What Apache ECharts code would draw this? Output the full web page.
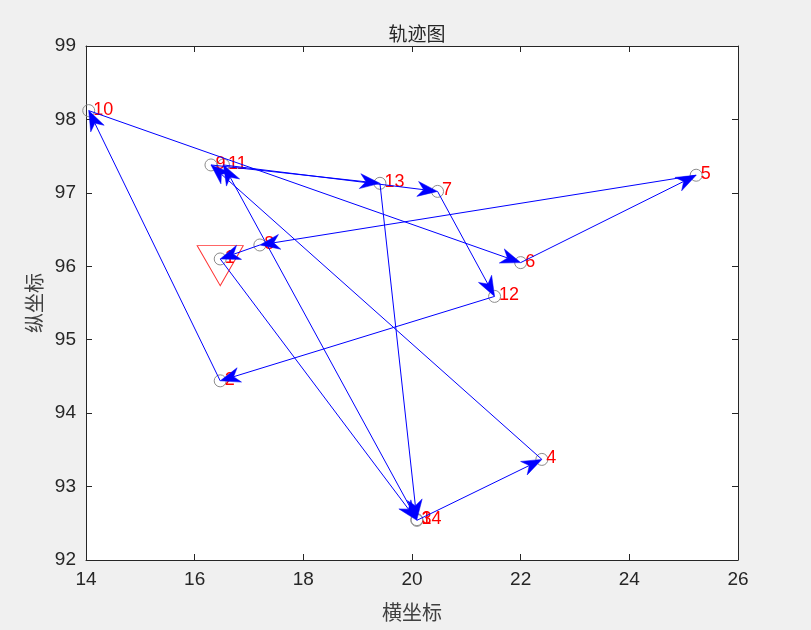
<!DOCTYPE html>
<html>
<head>
<meta charset="utf-8">
<script src="https://cdn.jsdelivr.net/npm/echarts@6/dist/echarts.min.js"></script>
<style>
html,body{margin:0;padding:0;background:#f0f0f0;}
#main{width:811px;height:630px;}
</style>
</head>
<body>
<div id="main"></div>
<script>
// City coordinates (index i -> city number i+1)
const cityX = [16.47, 16.47, 20.09, 22.39, 25.23, 22.00, 20.47, 17.20, 16.30, 14.05, 16.53, 21.52, 19.41, 20.09];
const cityY = [96.10, 94.44, 92.54, 93.37, 97.24, 96.05, 97.02, 96.29, 97.38, 98.12, 97.38, 95.59, 97.13, 92.55];
const cityLabels = ['1','2','3','4','5','6','7','8','9','10','11','12','13','14'];
// Visiting order of the trajectory (closed)
const route = [1, 3, 4, 9, 13, 14, 11, 7, 12, 2, 10, 6, 5, 8, 1];
const startCity = 1;
// Axis ticks
const xTicks = {min: 14, max: 26, step: 2};
const yTicks = {min: 92, max: 99, step: 1};

const pointData = cityX.map((x, i) => [x, cityY[i], cityLabels[i]]);
const edgeData = [];
for (let k = 0; k < route.length - 1; k++) {
  const a = route[k] - 1, b = route[k + 1] - 1;
  edgeData.push([cityX[a], cityY[a], cityX[b], cityY[b]]);
}

const chart = echarts.init(document.getElementById('main'), null, {renderer: 'canvas'});
const axisColor = '#262626';
const tickFont = {fontFamily: 'Liberation Sans, Arial, sans-serif', fontSize: 19, color: axisColor};
const cjk = 'Noto Sans CJK SC, sans-serif';

function renderArrow(params, api) {
  const p1 = api.coord([api.value(0), api.value(1)]);
  const p2 = api.coord([api.value(2), api.value(3)]);
  const dx = p2[0] - p1[0], dy = p2[1] - p1[1];
  const len = Math.sqrt(dx * dx + dy * dy) || 1;
  const ux = dx / len, uy = dy / len;
  const nx = -uy, ny = ux;
  const L = 20, W = 7.5, N = 6;
  const tip = p2;
  const b1 = [tip[0] - L * ux + W * nx, tip[1] - L * uy + W * ny];
  const b2 = [tip[0] - L * ux - W * nx, tip[1] - L * uy - W * ny];
  const notch = [tip[0] - (L - N) * ux, tip[1] - (L - N) * uy];
  return {
    type: 'group',
    children: [
      {type: 'line', shape: {x1: p1[0], y1: p1[1], x2: notch[0], y2: notch[1]},
       style: {stroke: '#0000ff', lineWidth: 1}},
      {type: 'polygon', shape: {points: [tip, b1, notch, b2]},
       style: {fill: '#0000ff', stroke: '#0000ff', lineWidth: 0.5}}
    ]
  };
}

const option = {
  backgroundColor: '#f0f0f0',
  animation: false,
  title: {
    text: '轨迹图', left: 412, top: 19, textAlign: 'center',
    textStyle: {fontFamily: cjk, fontSize: 19, fontWeight: 'normal', color: axisColor}
  },
  grid: {left: 86, right: 73, top: 46, bottom: 70, show: true, backgroundColor: '#ffffff', borderWidth: 0},
  xAxis: [
    {type: 'value', min: xTicks.min, max: xTicks.max, interval: xTicks.step, position: 'bottom',
     name: '横坐标', nameLocation: 'middle', nameGap: 42,
     nameTextStyle: {fontFamily: cjk, fontSize: 20, color: '#404040'},
     axisLine: {lineStyle: {color: axisColor, width: 1}},
     axisTick: {inside: true, length: 6, lineStyle: {color: axisColor}},
     axisLabel: Object.assign({margin: 10}, tickFont),
     splitLine: {show: false}},
    {type: 'value', min: xTicks.min, max: xTicks.max, interval: xTicks.step, position: 'top',
     axisLine: {show: true, lineStyle: {color: axisColor, width: 1}},
     axisTick: {inside: true, length: 6, lineStyle: {color: axisColor}},
     axisLabel: {show: false}, splitLine: {show: false}}
  ],
  yAxis: [
    {type: 'value', min: yTicks.min, max: yTicks.max, interval: yTicks.step, position: 'left',
     name: '纵坐标', nameLocation: 'middle', nameGap: 42,
     nameTextStyle: {fontFamily: cjk, fontSize: 20, color: '#404040'},
     axisLine: {show: true, lineStyle: {color: axisColor, width: 1}},
     axisTick: {show: true, inside: true, length: 6, lineStyle: {color: axisColor}},
     axisLabel: Object.assign({margin: 10}, tickFont),
     splitLine: {show: false}},
    {type: 'value', min: yTicks.min, max: yTicks.max, interval: yTicks.step, position: 'right',
     axisLine: {show: true, lineStyle: {color: axisColor, width: 1}},
     axisTick: {show: true, inside: true, length: 6, lineStyle: {color: axisColor}},
     axisLabel: {show: false}, splitLine: {show: false}}
  ],
  series: [
    {
      type: 'scatter', xAxisIndex: 0, yAxisIndex: 0, z: 2,
      data: pointData,
      symbol: 'circle', symbolSize: 12,
      itemStyle: {color: 'rgba(0,0,0,0)', borderColor: '#8c8c8c', borderWidth: 1, opacity: 1},
      label: {show: true, position: 'right', distance: 0, offset: [-2, -1],
        formatter: p => p.data[2],
        fontFamily: 'Liberation Sans, Arial, sans-serif', fontSize: 18, color: '#ff0000'},
      emphasis: {disabled: true}
    },
    {
      type: 'scatter', xAxisIndex: 0, yAxisIndex: 0, z: 3,
      data: [[cityX[startCity - 1], cityY[startCity - 1]]],
      symbol: 'triangle', symbolSize: [46, 40], symbolRotate: 180, symbolOffset: [0, 6.7],
      itemStyle: {color: 'rgba(0,0,0,0)', borderColor: '#ff0000', borderWidth: 1},
      emphasis: {disabled: true}
    },
    {
      type: 'custom', xAxisIndex: 0, yAxisIndex: 0, z: 4,
      data: edgeData,
      encode: {x: [0, 2], y: [1, 3]},
      renderItem: renderArrow
    }
  ]
};
chart.setOption(option);
</script>
</body>
</html>
